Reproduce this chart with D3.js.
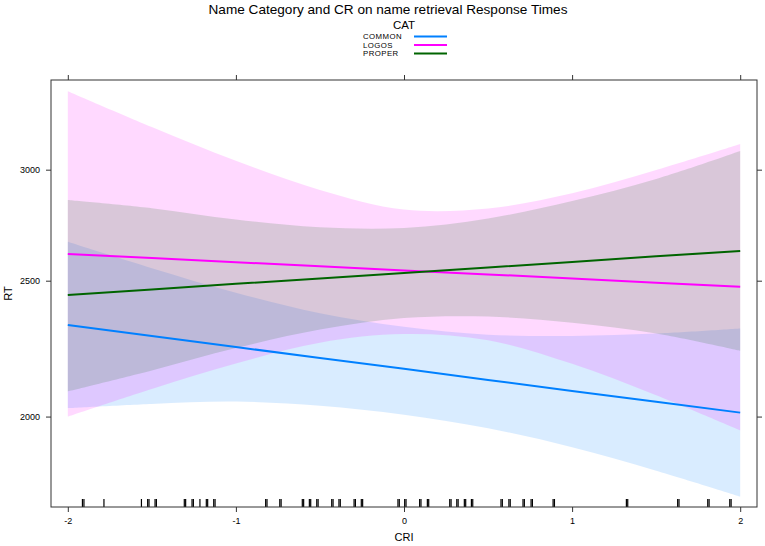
<!DOCTYPE html>
<html>
<head>
<meta charset="utf-8">
<script src="https://cdn.jsdelivr.net/npm/d3@7"></script>
<style>
  html, body { margin: 0; padding: 0; background: #fff; }
  svg { display: block; font-family: "Liberation Sans", Arial, Helvetica, sans-serif; }
</style>
</head>
<body>
<svg id="chart" width="765" height="546"></svg>
<script>
// ---- data ----
const categories = ["COMMON", "LOGOS", "PROPER"];
const cri = [-2, -1.5, -1, -0.5, 0, 0.5, 1, 1.5, 2];

const commonFit   = [2325, 2283, 2242, 2202, 2163, 2124, 2086, 2049, 2013];
const commonUpper = [2665, 2552, 2451, 2370, 2318, 2288, 2283, 2292, 2311];
const commonLower = [2028, 2042, 2050, 2036, 2006, 1962, 1902, 1830, 1754];

const logosFit    = [2612, 2595, 2577, 2560, 2542, 2526, 2509, 2492, 2475];
const logosUpper  = [3413, 3218, 3044, 2902, 2810, 2815, 2886, 2998, 3129];
const logosLower  = [2000, 2093, 2182, 2258, 2290, 2267, 2181, 2071, 1955];

const properFit   = [2442, 2464, 2487, 2509, 2532, 2555, 2578, 2602, 2625];
const properUpper = [2854, 2816, 2764, 2729, 2726, 2769, 2849, 2954, 3093];
const properLower = [2084, 2157, 2238, 2307, 2351, 2357, 2333, 2292, 2228];

const xTicks = [-2, -1, 0, 1, 2];
const xTickLabels = ["-2", "-1", "0", "1", "2"];
const yTicks = [2000, 2500, 3000];
const yTickLabels = ["2000", "2500", "3000"];

// observed CRI values (rug)
const rugValues = [
  -1.913, -1.904, -1.785, -1.562, -1.525, -1.517, -1.481, -1.473,
  -1.307, -1.299, -1.261, -1.253, -1.214, -1.176, -1.168, -1.132, -1.124,
  -0.823, -0.815, -0.739, -0.731, -0.605, -0.597, -0.563, -0.555, -0.519, -0.511,
  -0.430, -0.422, -0.387, -0.379, -0.297, -0.289, -0.254, -0.246,
  -0.036, -0.028, 0.004, 0.012, 0.093, 0.101, 0.139, 0.147,
  0.272, 0.280, 0.314, 0.322, 0.359, 0.367, 0.401, 0.409,
  0.577, 0.585, 0.624, 0.632, 0.708, 0.716, 0.756, 0.764, 0.887, 0.895,
  1.323, 1.331, 1.628, 1.636, 1.807, 1.815, 1.938, 1.946
];

const colors = ["#0080ff", "#ff00ff", "#006400"];
const title = "Name Category and CR on name retrieval Response Times";
const legendTitle = "CAT";
const xLabel = "CRI";
const yLabel = "RT";

// ---- layout ----
const panel = { left: 51, right: 757, top: 80, bottom: 507 };
const svg = d3.select("#chart");

const x = d3.scaleLinear().domain([-2.1, 2.1]).range([panel.left, panel.right]);
const y = d3.scaleLog().domain([1724, 3476]).range([panel.bottom, panel.top]);

const seriesData = [
  { name: categories[0], fit: commonFit, up: commonUpper, lo: commonLower, color: colors[0] },
  { name: categories[1], fit: logosFit,  up: logosUpper,  lo: logosLower,  color: colors[1] },
  { name: categories[2], fit: properFit, up: properUpper, lo: properLower, color: colors[2] }
];

svg.append("defs").append("clipPath").attr("id", "pclip")
  .append("rect").attr("x", panel.left).attr("y", panel.top)
  .attr("width", panel.right - panel.left).attr("height", panel.bottom - panel.top);

const plot = svg.append("g").attr("clip-path", "url(#pclip)");

const area = d3.area()
  .x(d => x(d.x)).y0(d => y(d.lo)).y1(d => y(d.up))
  .curve(d3.curveCatmullRom.alpha(0.5));
const line = d3.line().x(d => x(d.x)).y(d => y(d.v));

seriesData.forEach(s => {
  const pts = cri.map((cx, i) => ({ x: cx, lo: s.lo[i], up: s.up[i] }));
  plot.append("path").attr("d", area(pts))
    .attr("fill", s.color).attr("fill-opacity", 0.15).attr("stroke", "none");
});
seriesData.forEach(s => {
  const pts = cri.map((cx, i) => ({ x: cx, v: s.fit[i] }));
  plot.append("path").attr("d", line(pts))
    .attr("fill", "none").attr("stroke", s.color).attr("stroke-width", 2);
});

// rug
svg.append("g").selectAll("line").data(rugValues).join("line")
  .attr("x1", d => x(d)).attr("x2", d => x(d))
  .attr("y1", panel.bottom - 8).attr("y2", panel.bottom)
  .attr("stroke", "#000").attr("stroke-width", 1.2);

// frame
svg.append("rect")
  .attr("x", panel.left).attr("y", panel.top)
  .attr("width", panel.right - panel.left).attr("height", panel.bottom - panel.top)
  .attr("fill", "none").attr("stroke", "#333").attr("stroke-width", 1);

// axes
const axisColor = "#333";
const gxb = svg.append("g").attr("transform", `translate(0,${panel.bottom})`)
  .call(d3.axisBottom(x).tickValues(xTicks).tickSize(5).tickPadding(6)
    .tickFormat((d, i) => xTickLabels[i]));
const gxt = svg.append("g").attr("transform", `translate(0,${panel.top})`)
  .call(d3.axisTop(x).tickValues(xTicks).tickSize(5).tickFormat(""));
const gyl = svg.append("g").attr("transform", `translate(${panel.left},0)`)
  .call(d3.axisLeft(y).tickValues(yTicks).tickSize(5).tickPadding(6)
    .tickFormat((d, i) => yTickLabels[i]));
const gyr = svg.append("g").attr("transform", `translate(${panel.right},0)`)
  .call(d3.axisRight(y).tickValues(yTicks).tickSize(5).tickFormat(""));
[gxb, gxt, gyl, gyr].forEach(g => {
  g.select(".domain").remove();
  g.selectAll(".tick line").attr("stroke", axisColor);
  g.selectAll(".tick text").attr("fill", "#000")
    .style("font-family", "'Liberation Sans', Arial, sans-serif").style("font-size", "9px");
});

// axis labels
svg.append("text").attr("x", x(0)).attr("y", 541).attr("text-anchor", "middle")
  .style("font-size", "11px").text(xLabel);
svg.append("text").attr("transform", `translate(12,${(panel.top + panel.bottom) / 2}) rotate(-90)`)
  .attr("text-anchor", "middle").style("font-size", "11px").text(yLabel);

// title
svg.append("text").attr("x", 388).attr("y", 14).attr("text-anchor", "middle")
  .style("font-size", "13.6px").text(title);

// legend
svg.append("text").attr("x", 404).attr("y", 29).attr("text-anchor", "middle")
  .style("font-size", "11.5px").text(legendTitle);
const leg = svg.append("g");
seriesData.forEach((s, i) => {
  const ly = 36.4 + i * 8.5;
  leg.append("text").attr("x", 363).attr("y", ly + 2.9)
    .style("font-size", "7.8px").style("letter-spacing", "0.45px").text(s.name);
  leg.append("line").attr("x1", 414).attr("x2", 447).attr("y1", ly).attr("y2", ly)
    .attr("stroke", s.color).attr("stroke-width", 2);
});
</script>
</body>
</html>
